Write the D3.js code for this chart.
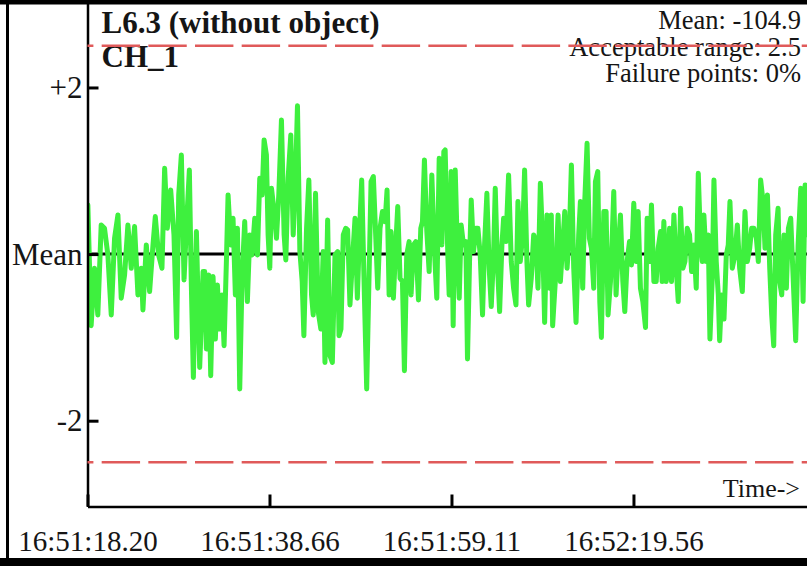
<!DOCTYPE html>
<html><head><meta charset="utf-8">
<script src="https://cdn.jsdelivr.net/npm/d3@7"></script>
<style>html,body{margin:0;padding:0;background:#fff;} svg{display:block;}</style>
</head><body>
<svg id="chart" width="807" height="566"></svg>
<script>
// ---- data ----
const titleLines = ["L6.3 (without object)", "CH_1"];
const infoLines = ["Mean: -104.9", "Acceptable range: 2.5", "Failure points: 0%"];
const axisNote = "Time->";
const yTickValues = [-2, 0, 2];
const yTickLabels = ["-2", "Mean", "+2"];
const acceptableRange = 2.5;
const xTickValues = [0, 20.455, 40.91, 61.365];
const xTickLabels = ["16:51:18.20", "16:51:38.66", "16:51:59.11", "16:52:19.56"];
const timeSpan = [0, 80.87];          // seconds after 16:51:18.20
const deviationSpan = [-3.03, 3.05];  // offset from the mean

const sampleTimes = [
  0.04,0.41,0.79,1.16,1.54,1.91,2.29,2.67,3.04,3.42,3.79,4.17,4.54,4.92,5.29,5.67,6.04,6.23,6.61,6.98,
  7.36,7.62,7.99,8.37,8.67,8.97,9.35,9.72,10.02,10.25,10.55,10.85,11.11,11.45,11.67,11.90,12.24,12.61,12.99,
  13.17,13.36,13.62,13.85,14.11,14.37,14.60,14.86,15.12,15.35,15.61,15.80,16.10,16.36,16.62,16.85,17.11,17.37,
  17.67,17.97,18.24,18.50,18.80,19.10,19.36,19.63,19.85,20.11,20.30,20.49,20.68,20.98,21.24,21.50,21.80,22.10,
  22.29,22.55,22.85,23.12,23.38,23.60,23.87,24.13,24.32,24.62,24.88,25.18,25.37,25.63,25.93,26.23,26.49,
  26.69,26.99,27.25,27.52,27.82,28.12,28.27,28.49,28.75,29.02,29.24,29.50,29.77,30.07,30.33,30.59,30.82,31.12,
  31.38,31.64,31.87,32.13,32.39,32.62,32.88,33.15,33.45,33.67,33.90,34.12,34.38,34.65,34.87,35.13,35.40,35.62,
  35.88,36.15,36.37,36.64,36.90,37.20,37.46,37.65,37.87,38.14,38.40,38.70,39.00,39.26,39.53,39.83,40.05,
  40.20,40.50,40.65,40.88,41.10,41.33,41.59,41.78,42.00,42.26,42.53,42.71,42.94,43.13,43.39,43.65,43.88,44.14,
  44.40,44.63,44.89,45.15,45.38,45.64,45.83,46.09,46.32,46.58,46.77,47.03,47.33,47.63,47.89,48.16,48.38,48.64,
  48.91,49.13,49.39,49.58,49.88,50.15,50.41,50.63,50.90,51.16,51.38,51.65,51.91,52.13,52.28,52.58,52.89,53.15,
  53.41,53.64,
  53.90,54.16,54.39,54.65,54.91,55.21,55.40,55.66,55.89,56.15,56.41,56.64,56.90,57.09,57.35,57.58,57.76,58.03,
  58.29,58.51,58.78,58.96,59.15,59.41,59.64,59.90,60.17,60.39,60.65,60.92,61.14,61.40,61.67,61.89,62.15,62.42,
  62.72,62.90,63.17,63.39,63.66,63.92,64.14,64.41,64.59,64.78,65.04,65.27,65.42,65.64,65.91,66.17,66.40,66.66,
  66.92,67.15,
  67.41,67.67,67.90,68.16,68.42,68.65,68.91,69.10,69.28,69.55,69.77,69.96,70.22,70.41,70.67,70.90,71.05,71.27,
  71.54,71.80,72.02,72.21,72.47,72.77,73.04,73.30,73.60,73.90,74.16,74.43,74.65,74.91,75.18,75.40,75.66,75.93,
  76.15,76.42,76.68,76.90,77.13,77.35,77.62,77.80,78.03,78.29,78.55,78.78,79.04,79.30,79.60,79.87,80.17,80.43,
  80.66,80.96
];

const deviation = [
  0.59,-0.86,-0.17,-0.73,0.35,0.31,-0.01,-0.73,0.19,0.47,-0.53,-0.25,0.35,-0.17,0.33,-0.49,-0.17,-0.67,0.11,-0.45,
  0.11,0.45,-0.01,-0.17,1.03,0.31,0.77,0.23,-1.00,0.71,1.19,-0.31,0.31,1.01,-0.37,-1.48,0.27,-1.36,-0.21,
  -0.21,-1.14,-0.25,-1.46,-0.27,-1.02,-0.37,-0.90,-0.49,-1.10,-0.09,0.71,0.11,0.43,-0.49,0.31,-1.62,-0.29,
  0.39,-0.57,0.23,-0.01,0.43,-0.01,0.91,0.71,1.37,1.19,0.23,-0.17,0.79,0.51,0.19,0.71,1.61,0.23,
  -0.07,0.91,1.43,0.23,0.91,1.78,0.03,-0.33,-0.98,0.31,0.89,-0.49,-0.73,0.73,-0.69,-0.90,0.03,
  -1.30,0.41,-1.22,-1.30,-0.01,0.03,-0.98,-0.90,0.23,0.31,0.29,-0.61,-0.09,0.43,-0.53,0.31,0.89,-0.49,
  -1.62,-0.29,0.87,0.93,0.23,-0.41,0.31,0.51,0.39,0.77,-0.49,0.27,-0.53,0.11,0.57,-0.29,-0.33,-1.40,
  -0.01,0.15,-0.49,0.11,0.15,-0.55,0.31,0.39,1.13,0.27,-0.21,0.95,0.03,-0.53,1.15,0.11,1.23,
  1.25,-0.01,-0.49,0.99,-0.86,1.01,-0.01,-0.53,0.35,0.11,0.15,-1.26,-0.09,0.65,0.03,0.31,0.31,-0.01,
  -0.73,0.11,0.73,-0.17,-0.63,-0.01,0.79,-0.17,-0.69,0.11,0.43,0.15,0.95,-0.09,-0.41,-0.61,0.63,-0.09,
  0.23,1.01,-0.09,-0.61,-0.29,0.23,0.15,-0.41,0.85,0.15,-0.82,0.47,-0.41,0.47,-0.86,-0.33,0.47,-0.33,
  0.11,0.51,
  -0.17,0.23,1.07,-0.17,-0.82,0.23,0.63,-0.41,0.63,1.33,0.19,0.07,-0.41,0.87,0.99,-0.57,-1.00,0.51,
  0.51,-0.73,-0.33,0.15,0.75,-0.49,0.03,0.47,-0.33,-0.69,-0.09,0.15,-0.13,0.61,-0.09,0.51,-0.41,-0.57,
  -0.88,0.43,-0.09,0.59,-0.33,-0.33,0.07,0.27,-0.33,0.39,-0.33,-0.17,0.31,-0.33,0.47,-0.17,-0.57,0.55,
  -0.17,-0.09,
  0.31,0.23,-0.21,0.11,-0.41,0.97,0.11,-0.09,0.47,-0.09,0.23,-1.02,-0.29,0.89,-0.09,-0.49,-1.04,-0.49,
  -0.78,-0.01,0.11,0.63,-0.17,-0.01,0.35,-0.17,-0.45,0.51,-0.09,0.07,0.31,0.31,0.19,-0.09,0.89,0.63,
  0.07,0.71,-0.17,-0.73,-1.10,0.23,0.55,-0.33,-0.49,0.23,-0.41,0.31,0.43,-0.25,-1.04,0.11,0.79,-0.57,
  0.83,0.23
];

// ---- drawing ----
const W = 807, H = 566;
const plot = {left: 87.5, right: 807, top: 0, bottom: 506.5};
const serif = "'Liberation Serif', 'Times New Roman', serif";
const ink = "#151515";

const svg = d3.select("#chart");
svg.append("rect").attr("width", W).attr("height", H).attr("fill", "#fff");

const x = d3.scaleLinear().domain(timeSpan).range([plot.left, plot.right]);
const y = d3.scaleLinear().domain(deviationSpan).range([plot.bottom, plot.top]);

svg.append("clipPath").attr("id", "plotClip")
  .append("rect").attr("x", plot.left).attr("y", plot.top)
  .attr("width", plot.right - plot.left).attr("height", plot.bottom - plot.top);

// mean line
svg.append("line")
  .attr("x1", x(timeSpan[0])).attr("x2", x(timeSpan[1]))
  .attr("y1", y(0)).attr("y2", y(0))
  .attr("stroke", "#000").attr("stroke-width", 3);

// signal
const series = sampleTimes.map((t, i) => ({t, v: deviation[i]}));
svg.append("path")
  .datum(series)
  .attr("clip-path", "url(#plotClip)")
  .attr("fill", "none")
  .attr("stroke", "#3ef03e")
  .attr("stroke-width", 5)
  .attr("stroke-linejoin", "round")
  .attr("stroke-linecap", "round")
  .attr("d", d3.line().x(d => x(d.t)).y(d => y(d.v)));

// y axis
const yAxis = d3.axisLeft(y)
  .tickValues(yTickValues)
  .tickFormat((d, i) => yTickLabels[i])
  .tickSizeInner(-11).tickSizeOuter(0).tickPadding(5);
const gy = svg.append("g").attr("transform", `translate(${plot.left},0)`).call(yAxis);
gy.select(".domain").attr("stroke", "#000").attr("stroke-width", 2.5);
gy.selectAll(".tick line").attr("stroke", "#000").attr("stroke-width", 3);
gy.selectAll(".tick text").attr("font-family", serif).attr("font-size", 31).attr("fill", ink);

// x axis
const xAxis = d3.axisBottom(x)
  .tickValues(xTickValues)
  .tickFormat((d, i) => xTickLabels[i])
  .tickSizeInner(-12).tickSizeOuter(0).tickPadding(24);
const gx = svg.append("g").attr("transform", `translate(0,${plot.bottom})`).call(xAxis);
gx.select(".domain").attr("stroke", "#000").attr("stroke-width", 2.5);
gx.selectAll(".tick line").attr("stroke", "#000").attr("stroke-width", 3);
gx.selectAll(".tick text").attr("font-family", serif).attr("font-size", 29).attr("fill", ink);

// texts
svg.selectAll("text.title").data(titleLines).join("text")
  .attr("class", "title")
  .attr("x", 101.5).attr("y", (d, i) => 32.5 + i * 34)
  .attr("font-family", serif).attr("font-weight", "bold").attr("font-size", 31)
  .attr("fill", ink).text(d => d);

svg.selectAll("text.info").data(infoLines).join("text")
  .attr("class", "info")
  .attr("x", 801).attr("y", (d, i) => 29 + i * 26.5)
  .attr("text-anchor", "end")
  .attr("font-family", serif).attr("font-size", 26.5)
  .attr("fill", ink).text(d => d);

svg.append("text")
  .attr("x", 800).attr("y", 497)
  .attr("text-anchor", "end")
  .attr("font-family", serif).attr("font-size", 26)
  .attr("fill", ink).text(axisNote);

// acceptable range limits
svg.selectAll("line.limit").data([acceptableRange, -acceptableRange]).join("line")
  .attr("class", "limit")
  .attr("x1", x(timeSpan[0])).attr("x2", x(timeSpan[1]))
  .attr("y1", d => y(d)).attr("y2", d => y(d))
  .attr("stroke", "#e05a5a").attr("stroke-width", 2.5)
  .attr("stroke-dasharray", "38.4 8.27")
  .attr("stroke-dashoffset", 32.5);

// frame
svg.append("rect").attr("x", 0).attr("y", 0).attr("width", W).attr("height", 4.5).attr("fill", "#000");
svg.append("rect").attr("x", 6).attr("y", 0).attr("width", 3).attr("height", H).attr("fill", "#000");
svg.append("rect").attr("x", 0).attr("y", 558).attr("width", W).attr("height", 8).attr("fill", "#000");
</script>
</body></html>
